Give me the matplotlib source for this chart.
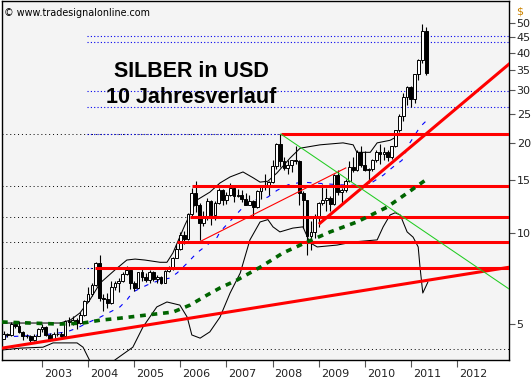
"""Silver in USD, monthly candles over ten years with trend and support lines."""

import numpy as np
import matplotlib
matplotlib.use("Agg", force=True)
import matplotlib.pyplot as plt

# monthly candles, Mar 2002 .. May 2011
opens = [
    4.45, 4.62, 4.58, 4.98, 4.92, 4.70, 4.55, 4.56, 4.42, 4.55,
    4.79, 4.88, 4.58, 4.45, 4.62, 4.60, 4.55, 5.10, 5.05, 5.15, 5.02, 5.35,
    5.95, 6.25, 6.70, 7.95, 6.10, 6.05, 5.85, 6.60, 6.80, 6.95, 7.30, 7.55,
    6.80, 6.55, 7.40, 7.15, 6.98, 7.42, 7.05, 7.15, 6.85, 7.48, 7.62, 8.28,
    8.85, 9.85, 9.55, 11.55, 13.60, 12.40, 10.85, 11.30, 12.85, 11.50, 12.60, 13.90,
    12.90, 13.45, 14.20, 13.35, 13.40, 13.05, 12.45, 12.85, 12.20, 13.80, 14.30, 14.25,
    14.80, 16.80, 19.85, 17.35, 16.50, 16.90, 17.50, 17.40, 13.60, 12.90, 9.80, 10.10,
    11.30, 12.60, 12.95, 13.10, 12.50, 15.60, 13.75, 13.90, 14.90, 16.60, 16.20, 18.60,
    16.90, 16.20, 16.40, 17.50, 18.60, 18.40, 18.70, 18.00, 19.50, 22.00, 24.60, 28.50,
    30.60, 27.90, 34.00, 37.90, 47.30,
]
highs = [
    4.72, 4.65, 5.05, 5.10, 5.08, 4.72, 4.62, 4.58, 4.63, 4.82,
    4.97, 4.90, 4.65, 4.70, 4.85, 4.70, 5.15, 5.25, 5.30, 5.20, 5.45, 6.00,
    6.60, 6.85, 8.00, 8.45, 6.25, 6.30, 6.95, 6.95, 7.10, 7.45, 7.80, 7.70,
    6.95, 7.45, 7.60, 7.35, 7.55, 7.50, 7.25, 7.20, 7.55, 7.80, 8.35, 9.20,
    10.10, 10.15, 11.70, 14.20, 14.90, 12.60, 11.90, 13.10, 12.90, 12.80, 14.10, 14.05,
    13.70, 14.65, 14.30, 14.00, 13.95, 13.65, 13.40, 12.95, 13.90, 14.40, 15.80, 14.90,
    17.50, 19.95, 21.40, 18.00, 17.60, 17.60, 19.50, 17.50, 13.80, 12.95, 11.00, 11.60,
    12.70, 14.55, 14.15, 13.30, 15.80, 16.20, 14.10, 15.10, 17.40, 18.00, 19.00, 19.50,
    18.85, 16.55, 17.70, 18.90, 19.80, 19.40, 18.90, 19.60, 22.10, 24.90, 29.35, 31.00,
    31.00, 34.05, 38.10, 49.70, 48.60,
]
lows = [
    4.43, 4.50, 4.55, 4.82, 4.65, 4.42, 4.48, 4.35, 4.38, 4.53,
    4.70, 4.55, 4.38, 4.45, 4.55, 4.45, 4.55, 4.90, 4.95, 4.80, 4.98, 5.30,
    5.90, 6.20, 6.65, 5.95, 5.50, 5.65, 5.80, 6.45, 6.35, 6.90, 7.25, 6.50,
    6.40, 6.55, 6.95, 6.90, 6.85, 6.95, 6.80, 6.75, 6.80, 7.45, 7.55, 8.25,
    8.80, 9.20, 9.50, 11.40, 11.80, 9.50, 10.60, 11.10, 10.65, 11.10, 12.50, 12.40,
    12.50, 13.30, 12.70, 13.20, 12.70, 12.40, 12.40, 11.20, 12.10, 13.00, 13.90, 13.40,
    14.70, 16.40, 16.60, 16.20, 15.80, 16.00, 17.00, 12.40, 10.40, 8.45, 8.80, 9.65,
    10.50, 12.40, 11.85, 11.90, 12.40, 13.40, 12.50, 13.70, 14.85, 16.00, 16.10, 16.60,
    16.10, 14.65, 16.10, 17.30, 17.00, 17.60, 17.35, 17.65, 19.40, 21.70, 23.60, 26.70,
    26.40, 27.20, 32.30, 37.00, 33.60,
]
closes = [
    4.62, 4.58, 4.98, 4.92, 4.70, 4.55, 4.56, 4.42, 4.55, 4.79,
    4.88, 4.58, 4.45, 4.62, 4.60, 4.55, 5.10, 5.05, 5.15, 5.02, 5.35, 5.95,
    6.25, 6.70, 7.95, 6.10, 6.05, 5.85, 6.60, 6.80, 6.95, 7.30, 7.55, 6.80,
    6.55, 7.40, 7.15, 6.98, 7.42, 7.05, 7.15, 6.85, 7.48, 7.62, 8.28, 8.85,
    9.85, 9.55, 11.55, 13.60, 12.40, 10.85, 11.30, 12.85, 11.50, 12.60, 13.90, 12.90,
    13.45, 14.20, 13.35, 13.40, 13.05, 12.45, 12.85, 12.20, 13.80, 14.30, 14.25, 14.80,
    16.80, 19.85, 17.35, 16.50, 16.90, 17.50, 17.40, 13.60, 12.90, 9.80, 10.10, 11.30,
    12.60, 12.95, 13.10, 12.50, 15.60, 13.75, 13.90, 14.90, 16.60, 16.20, 18.60, 16.90,
    16.20, 16.40, 17.50, 18.60, 18.40, 18.70, 18.00, 19.50, 22.00, 24.60, 28.50, 30.60,
    27.90, 34.00, 37.90, 47.30, 34.20,
]

# band lines (decimal year, USD)
bb_upper_t = [2002.13, 2002.96, 2003.39, 2003.61, 2003.82, 2004.04, 2004.26, 2004.58,
              2004.84, 2005.02, 2005.23, 2005.56, 2005.71, 2005.84, 2006.10, 2006.36,
              2006.64, 2006.86, 2007.08, 2007.36, 2007.58, 2007.73, 2007.90, 2008.10,
              2008.38, 2008.60, 2009.03, 2009.53, 2009.75, 2009.83, 2010.12, 2010.27,
              2010.55, 2010.68]
bb_upper = [5.02, 5.02, 5.02, 5.13, 5.42, 6.0, 6.82, 7.54, 8.14, 8.2, 8.14, 8.0, 8.0,
            8.6, 10.65, 12.9, 13.7, 14.7, 15.4, 16.0, 15.3, 14.8, 14.9, 15.9, 17.8,
            19.2, 19.7, 20.0, 19.7, 18.6, 18.6, 20.0, 20.4, 20.9]
bb_lower_t = [2002.13, 2002.52, 2003.02, 2003.24, 2003.76, 2003.89, 2004.04, 2004.26,
              2004.45, 2004.58, 2004.97, 2005.19, 2005.49, 2005.71, 2005.99, 2006.15,
              2006.25, 2006.43, 2006.64, 2006.86, 2007.08, 2007.30, 2007.51, 2007.73,
              2007.90, 2008.01, 2008.16, 2008.44, 2008.66, 2008.81, 2008.97, 2009.40,
              2009.75, 2010.27, 2010.40, 2010.55, 2010.66, 2010.77, 2010.92, 2011.05,
              2011.16, 2011.20, 2011.26, 2011.37]
bb_lower = [4.08, 4.14, 4.17, 4.31, 4.31, 4.17, 3.75, 3.3, 3.4, 3.78, 4.17, 4.87, 5.68,
            5.9, 5.76, 5.25, 4.58, 4.47, 4.69, 5.25, 6.32, 7.37, 9.5, 10.9, 11.1, 10.5,
            10.1, 10.4, 10.5, 9.3, 9.0, 9.13, 9.35, 9.5, 10.5, 11.5, 11.7, 11.5, 10.1,
            9.7, 9.0, 7.7, 6.32, 6.87]

# slow moving average (green dots)
ma_t = [2002.13, 2002.74, 2003.39, 2003.89, 2004.26, 2004.69, 2005.28, 2005.84, 2006.21,
        2006.58, 2006.86, 2007.23, 2007.73, 2008.23, 2008.75, 2009.25, 2009.83, 2010.48,
        2010.92, 2011.31]
ma = [5.06, 5.02, 4.98, 5.02, 5.13, 5.21, 5.34, 5.46, 5.76, 6.22, 6.57, 6.98, 7.7, 8.6,
      9.35, 10.1, 10.9, 12.2, 13.6, 15.0]

# trailing line (blue dashes)
trail_t = [2002.15, 2003.02, 2003.54, 2003.76, 2003.98, 2004.26, 2004.69, 2004.84,
           2004.97, 2005.28, 2005.56, 2005.78, 2005.93, 2006.15, 2006.36, 2006.58,
           2006.80, 2006.86, 2007.36, 2007.58, 2007.79, 2007.90, 2008.10, 2008.34,
           2008.64, 2009.46, 2010.05, 2010.40, 2010.61, 2010.81, 2010.98, 2011.20, 2011.35]
trail = [4.51, 4.58, 4.69, 4.83, 5.02, 5.25, 5.68, 5.99, 6.37, 6.72, 6.98, 7.09, 7.37,
         7.95, 8.6, 9.13, 9.7, 10.1, 12.2, 12.9, 13.0, 13.2, 13.9, 14.5, 14.8, 14.5, 14.4,
         15.6, 16.6, 17.5, 20.0, 22.6, 23.8]

# drawn lines: (t0, v0, t1, v1)
support_line = (2002.13, 4.14, 2013.13, 7.7)
uptrend_line = (2009.03, 10.8, 2013.13, 36.6)
old_trend_line = (2006.41, 9.35, 2009.59, 16.5)
downtrend_line = (2008.18, 21.4, 2013.13, 6.52)

# horizontal levels
red_levels = [21.4, 14.4, 11.3, 9.35, 7.65]
red_level_start = [2008.18, 2006.25, 2006.21, 2005.93, 2004.15]
black_dot_levels = [21.4, 14.4, 11.3, 9.35, 7.65, 4.11]
blue_dot_levels = [45.4, 43.4, 29.8, 26.4, 21.4, 7.65]
blue_dot_start = 2003.98

year_ticks = list(range(2003, 2013))
price_ticks = [5, 10, 15, 20, 25, 30, 35, 40, 45, 50]

W, H = 531, 380
fig = plt.figure(figsize=(W / 100, H / 100), dpi=100, facecolor="white")
ax = fig.add_axes([2 / W, 1 - 360 / H, 507 / W, 359 / H])
ax.set_facecolor("#f4f4f4")
ax.set_yscale("log")
ax.set_xlim(2002.132, 2013.13)
ax.set_ylim(3.78, 59.4)

# level lines
x0, x1 = ax.get_xlim()
for v in black_dot_levels:
    ax.plot([x0, x1], [v, v], color="black", lw=0.7, ls=(0, (1, 3)), zorder=1)
for v in blue_dot_levels:
    ax.plot([blue_dot_start, x1], [v, v], color="#0000ee", lw=0.8, ls=(0, (1, 2)), zorder=1.2)

# bands and trailing line
ax.plot(bb_upper_t, bb_upper, color="black", lw=0.75, zorder=2)
ax.plot(bb_lower_t, bb_lower, color="black", lw=0.75, zorder=2)
ax.plot(trail_t, trail, color="#0000ff", lw=0.8, ls=(0, (4, 6)), zorder=2.5)

# candles
t = 2002 + (np.arange(len(closes)) + 2) / 12.0
o = np.asarray(opens)
h = np.asarray(highs)
lo = np.asarray(lows)
c = np.asarray(closes)
up = c >= o
body_lo = np.minimum(o, c)
body_hi = np.maximum(o, c)
ax.vlines(t, lo, h, color="black", lw=0.8, zorder=3)
ax.bar(t[up], body_hi[up] - body_lo[up], bottom=body_lo[up], width=0.06,
       facecolor="white", edgecolor="black", lw=0.7, zorder=4)
ax.bar(t[~up], body_hi[~up] - body_lo[~up], bottom=body_lo[~up], width=0.06,
       facecolor="black", edgecolor="black", lw=0.7, zorder=4)

# red support / resistance
for v, s in zip(red_levels, red_level_start):
    ax.plot([s, x1], [v, v], color="#ff0000", lw=2.2, solid_capstyle="butt", zorder=6)
for ln, lw in ((support_line, 2.2), (uptrend_line, 2.2), (old_trend_line, 0.8)):
    ax.plot([ln[0], ln[2]], [ln[1], ln[3]], color="#ff0000", lw=lw, zorder=6)
ax.plot([downtrend_line[0], downtrend_line[2]], [downtrend_line[1], downtrend_line[3]],
        color="#22cc22", lw=0.75, zorder=6)

# moving average
ax.plot(ma_t, ma, color="#006400", lw=2.6, ls=(0, (1.6, 1.6)), zorder=7)

# axes
for sp in ax.spines.values():
    sp.set_color("black")
    sp.set_linewidth(1.0)
ax.yaxis.tick_right()
ax.set_yticks(price_ticks)
ax.set_yticklabels([str(v) for v in price_ticks])
ax.yaxis.set_minor_locator(matplotlib.ticker.NullLocator())
ax.tick_params(axis="y", direction="out", length=4, width=0.8, color="#555555",
               pad=1.5, labelsize=8, labelcolor="#222222")
ax.set_xticks(year_ticks)
ax.set_xticklabels([])
ax.tick_params(axis="x", direction="out", length=5, width=0.8, color="#555555")
for yr in year_ticks:
    ax.annotate(str(yr), xy=(yr, 0), xycoords=("data", "axes fraction"),
                xytext=(1.5, -12.2), textcoords="offset points",
                ha="left", va="baseline", fontsize=8, color="#222222")
ax.grid(False)

fig.text(516 / W, 1 - 14 / H, "$", ha="left", va="baseline", fontsize=8,
         color="#cc8400")
fig.text(4 / W, 1 - 16 / H, "\u00a9 www.tradesignalonline.com", ha="left",
         va="baseline", fontsize=6.9, color="black")
fig.text(191 / W, 1 - 77 / H, "SILBER in USD", ha="center", va="baseline",
         fontsize=15.5, fontweight="bold", family="Liberation Sans", color="black")
fig.text(191 / W, 1 - 103 / H, "10 Jahresverlauf", ha="center", va="baseline",
         fontsize=15.5, fontweight="bold", family="Liberation Sans", color="black")

fig.savefig("out.png", dpi=100, facecolor="white")
plt.close(fig)
